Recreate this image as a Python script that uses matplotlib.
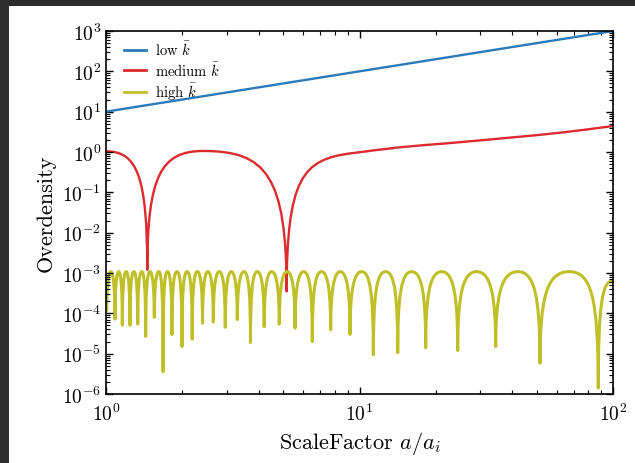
import numpy as np
import matplotlib.pyplot as plt
from matplotlib.path import Path
from matplotlib.patches import PathPatch, Rectangle
from matplotlib.lines import Line2D
from matplotlib.ticker import LogLocator, NullFormatter

plt.rcParams['font.family'] = 'serif'
plt.rcParams['font.serif'] = ['cmr10']
plt.rcParams['mathtext.fontset'] = 'cm'
plt.rcParams['axes.formatter.use_mathtext'] = True
plt.rcParams['axes.unicode_minus'] = False

# low k: pure growth
low_a = [1.0, 100.0]
low_delta = [10.0, 1000.0]

# medium k: two zero crossings, then growth
med_a = [1.0, 1.455, 2.42, 5.16, 9.3, 14.46, 22.08, 40.4, 63.7, 100.0]
med_delta = [1.04, 1.2e-3, 1.06, 3.5e-4, 0.93, 1.31, 1.64, 2.31, 3.07, 4.4]
med_dip = [False, True, False, True, False, False, False, False, False, False]

high_dip_a = [1.006, 1.085, 1.160, 1.243, 1.334, 1.434, 1.551, 1.679, 1.820,
              1.994, 2.188, 2.403, 2.650, 2.955, 3.296, 3.715, 4.207, 4.826,
              5.567, 6.514, 7.697, 9.174, 11.34, 14.15, 18.24, 24.40, 34.45,
              51.52, 87.5]
high_dip_delta = [1.2e-4, 7.2e-5, 5.1e-5, 5.1e-5, 5.4e-5, 2.7e-5, 8.0e-5,
                  3.6e-6, 3.0e-5, 1.5e-5, 2.3e-5, 5.7e-5, 6.1e-5, 4.5e-5,
                  7.0e-5, 1.9e-5, 4.7e-5, 5.4e-5, 4.3e-5, 2.0e-5, 3.9e-5,
                  3.0e-5, 9.4e-6, 1.06e-5, 1.4e-5, 1.2e-5, 1.5e-5, 5.8e-6,
                  1.4e-6]
high_crest = 1.08e-3
high_end_a = 100.0
high_end_delta = 6.4e-4


def smooth_path(xs, ys, dips, h=0.6):
    # cubic Bezier pieces in log-log space: vertical tangent at dips,
    # the dip-side handle reaches up to h decades below the other end
    X = np.log10(xs)
    Y = np.log10(ys)
    n = len(X)
    slope = np.zeros(n)
    for i in range(n):
        if dips[i]:
            continue
        nb = [j for j in (i - 1, i + 1) if 0 <= j < n and not dips[j]]
        if len(nb) == 2:
            slope[i] = (Y[nb[1]] - Y[nb[0]]) / (X[nb[1]] - X[nb[0]])
        elif len(nb) == 1:
            slope[i] = (Y[nb[0]] - Y[i]) / (X[nb[0]] - X[i])
    verts = [(X[0], Y[0])]
    codes = [Path.MOVETO]
    for i in range(n - 1):
        d = X[i + 1] - X[i]
        c = 0.75 if (dips[i] or dips[i + 1]) else 1 / 3
        if dips[i]:
            p1 = (X[i], max(Y[i], Y[i + 1] - h))
        else:
            p1 = (X[i] + c * d, Y[i] + c * d * slope[i])
        if dips[i + 1]:
            p2 = (X[i + 1], max(Y[i + 1], Y[i] - h))
        else:
            p2 = (X[i + 1] - c * d, Y[i + 1] - c * d * slope[i + 1])
        verts += [p1, p2, (X[i + 1], Y[i + 1])]
        codes += [Path.CURVE4] * 3
    return Path(10 ** np.array(verts), codes)


# crests sit halfway (in log a) between neighbouring dips
hx, hy, hd = [], [], []
for i, (a, d) in enumerate(zip(high_dip_a, high_dip_delta)):
    hx.append(a)
    hy.append(d)
    hd.append(True)
    if i + 1 < len(high_dip_a):
        hx.append(np.sqrt(a * high_dip_a[i + 1]))
        hy.append(high_crest)
        hd.append(False)
hx.append(high_end_a)
hy.append(high_end_delta)
hd.append(False)

c_low, c_med, c_high = '#2b7bba', '#dc2a2e', '#bfbf27'

fig = plt.figure(figsize=(6.35, 4.64), dpi=100, facecolor='#2d2d2d')
fig.patches.append(Rectangle((9 / 635, 0), 1, 1 - 7 / 464, transform=fig.transFigure,
                             facecolor='white', edgecolor='none', zorder=-1))
ax = fig.add_axes([106 / 635, 69 / 464, 507 / 635, 363 / 464])

ax.plot(low_a, low_delta, color=c_low, lw=1.7)
ax.add_patch(PathPatch(smooth_path(med_a, med_delta, med_dip), facecolor='none',
                       edgecolor=c_med, lw=1.7, joinstyle='round', capstyle='round'))
ax.add_patch(PathPatch(smooth_path(hx, hy, hd), facecolor='none',
                       edgecolor=c_high, lw=2.2, joinstyle='round', capstyle='round'))

ax.set_xscale('log')
ax.set_yscale('log')
ax.set_xlim(1, 100)
ax.set_ylim(1e-6, 1e3)
for axis in (ax.xaxis, ax.yaxis):
    axis.set_major_locator(LogLocator(base=10, numticks=100))
    axis.set_minor_locator(LogLocator(base=10, subs=np.arange(2, 10), numticks=100))
    axis.set_minor_formatter(NullFormatter())
ax.tick_params(which='both', direction='in', top=True, right=True, labelsize=14)
ax.tick_params(axis='x', which='major', pad=6)
ax.tick_params(which='major', length=5, width=1)
ax.tick_params(which='minor', length=3, width=0.8)
for s in ax.spines.values():
    s.set_linewidth(1.2)

ax.set_xlabel('ScaleFactor $a/a_i$', fontsize=16)
ax.set_ylabel('Overdensity', fontsize=16)

handles = [Line2D([], [], color=c_low, lw=2),
           Line2D([], [], color=c_med, lw=2),
           Line2D([], [], color=c_high, lw=2)]
ax.legend(handles, [r'low $\bar{k}$', r'medium $\bar{k}$', r'high $\bar{k}$'],
          loc='upper left', bbox_to_anchor=(0.01, 1.012), frameon=False,
          fontsize=10.5, handlelength=1.5, handletextpad=0.6, labelspacing=0.15)

fig.savefig('out.png', dpi=100, facecolor=fig.get_facecolor())
